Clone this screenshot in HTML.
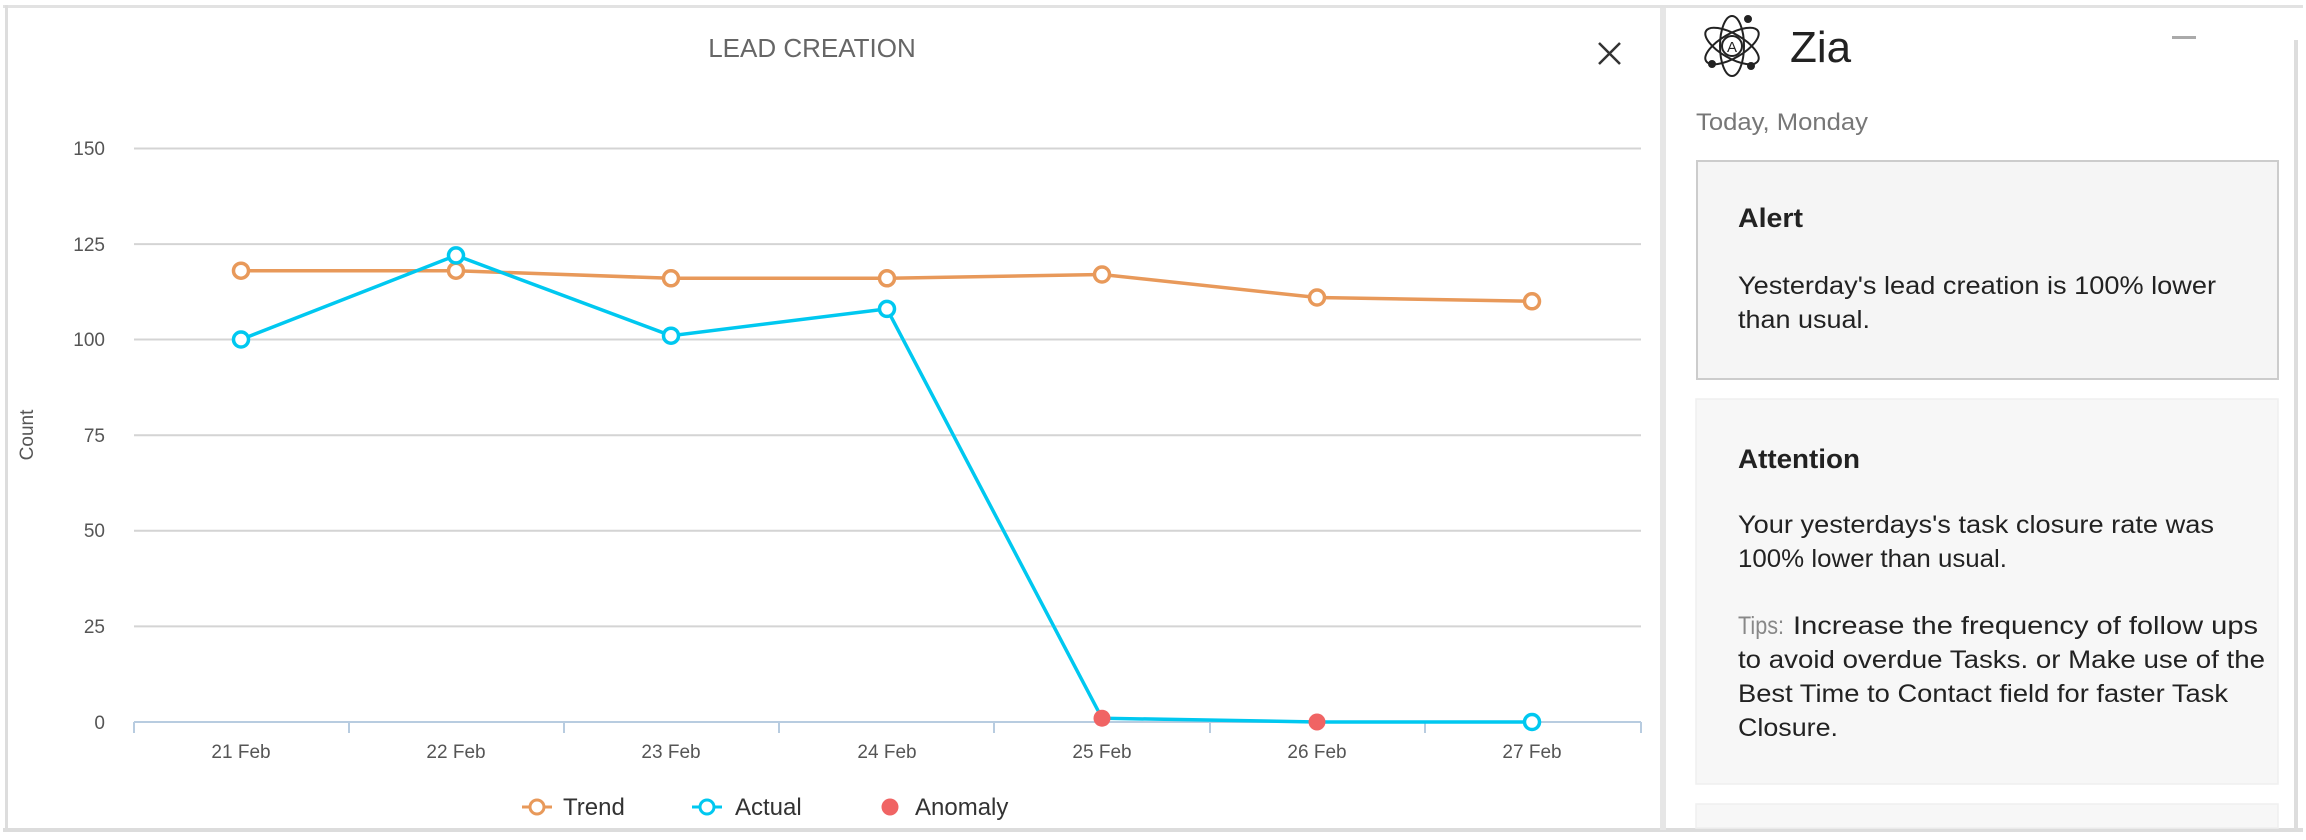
<!DOCTYPE html>
<html><head><meta charset="utf-8"><style>
html,body{margin:0;padding:0;background:#fff;}
svg{display:block;font-family:"Liberation Sans",sans-serif;}
</style></head><body>
<svg width="2306" height="840" viewBox="0 0 2306 840" xmlns="http://www.w3.org/2000/svg">
<rect width="2306" height="840" fill="#fff"/>
<rect x="3" y="5" width="2300" height="3" fill="#e2e2e2"/>
<rect x="3" y="828" width="2300" height="4" fill="#dcdcdc"/>
<rect x="5" y="5" width="3" height="825" fill="#dddddd"/>
<rect x="1660" y="8" width="6" height="822" fill="#e6e6e6"/>
<rect x="2294" y="40" width="4" height="790" fill="#dddddd"/>
<text x="812" y="57" font-size="26" fill="#666" text-anchor="middle">LEAD CREATION</text>
<path d="M1599 43 L1620 64 M1620 43 L1599 64" stroke="#333" stroke-width="2.5"/>
<g stroke="#d4d4d4" stroke-width="2">
<line x1="134" y1="148.5" x2="1641" y2="148.5"/>
<line x1="134" y1="244.1" x2="1641" y2="244.1"/>
<line x1="134" y1="339.5" x2="1641" y2="339.5"/>
<line x1="134" y1="435.2" x2="1641" y2="435.2"/>
<line x1="134" y1="530.8" x2="1641" y2="530.8"/>
<line x1="134" y1="626.4" x2="1641" y2="626.4"/>
</g>
<line x1="134" y1="722" x2="1641" y2="722" stroke="#b8cce0" stroke-width="2"/>
<g stroke="#b8cce0" stroke-width="2">
<line x1="134" y1="722" x2="134" y2="733"/><line x1="349" y1="722" x2="349" y2="733"/>
<line x1="564" y1="722" x2="564" y2="733"/><line x1="779" y1="722" x2="779" y2="733"/>
<line x1="994" y1="722" x2="994" y2="733"/><line x1="1210" y1="722" x2="1210" y2="733"/>
<line x1="1425" y1="722" x2="1425" y2="733"/><line x1="1641" y1="722" x2="1641" y2="733"/>
</g>
<g font-size="19" fill="#555" text-anchor="end">
<text x="105" y="155">150</text><text x="105" y="251">125</text><text x="105" y="346">100</text>
<text x="105" y="442">75</text><text x="105" y="537">50</text><text x="105" y="633">25</text><text x="105" y="729">0</text>
</g>
<text transform="translate(33,435) rotate(-90)" font-size="19" fill="#555" text-anchor="middle">Count</text>
<g font-size="19" fill="#555" text-anchor="middle">
<text x="241" y="758">21 Feb</text><text x="456" y="758">22 Feb</text><text x="671" y="758">23 Feb</text>
<text x="887" y="758">24 Feb</text><text x="1102" y="758">25 Feb</text><text x="1317" y="758">26 Feb</text><text x="1532" y="758">27 Feb</text>
</g>
<polyline points="241,270.7 456,270.7 671,278.3 887,278.3 1102,274.5 1317,297.5 1532,301.3" fill="none" stroke="#e8995a" stroke-width="3.5"/>
<g fill="#fff" stroke="#e8995a" stroke-width="3.5">
<circle cx="241" cy="270.7" r="7.5"/><circle cx="456" cy="270.7" r="7.5"/><circle cx="671" cy="278.3" r="7.5"/>
<circle cx="887" cy="278.3" r="7.5"/><circle cx="1102" cy="274.5" r="7.5"/><circle cx="1317" cy="297.5" r="7.5"/><circle cx="1532" cy="301.3" r="7.5"/>
</g>
<polyline points="241,339.5 456,255.4 671,335.7 887,308.9 1102,718.2 1317,722 1532,722" fill="none" stroke="#00c8f0" stroke-width="3.5"/>
<g fill="#fff" stroke="#00c8f0" stroke-width="3.5">
<circle cx="241" cy="339.5" r="7.5"/><circle cx="456" cy="255.4" r="7.5"/><circle cx="671" cy="335.7" r="7.5"/>
<circle cx="887" cy="308.9" r="7.5"/><circle cx="1532" cy="722" r="7.5"/>
</g>
<circle cx="1102" cy="718.2" r="8.5" fill="#f06464"/>
<circle cx="1317" cy="722" r="8.5" fill="#f06464"/>
<line x1="522" y1="807" x2="552" y2="807" stroke="#e8995a" stroke-width="3"/>
<circle cx="537" cy="807" r="7" fill="#fff" stroke="#e8995a" stroke-width="3"/>
<text x="563" y="815" font-size="24" fill="#333">Trend</text>
<line x1="692" y1="807" x2="722" y2="807" stroke="#00c8f0" stroke-width="3"/>
<circle cx="707" cy="807" r="7" fill="#fff" stroke="#00c8f0" stroke-width="3"/>
<text x="735" y="815" font-size="24" fill="#333">Actual</text>
<circle cx="890" cy="807" r="8.5" fill="#f06464"/>
<text x="915" y="815" font-size="24" fill="#333">Anomaly</text>
<g transform="translate(1732,46)" fill="none" stroke="#222" stroke-width="2">
<ellipse rx="30" ry="12" transform="rotate(30)"/>
<ellipse rx="30" ry="12" transform="rotate(-30)"/>
<ellipse rx="12" ry="30"/>
<circle r="10"/>
<text x="0" y="6" font-size="15" fill="#222" stroke="none" text-anchor="middle">A</text>
<circle cx="-20" cy="18" r="3" fill="#222"/><circle cx="16" cy="-27" r="3" fill="#222"/><circle cx="19" cy="20" r="3" fill="#222"/>
</g>
<text x="1790" y="62" font-size="44" fill="#222">Zia</text>
<rect x="2172" y="36" width="24" height="3" fill="#aaa"/>
<text x="1696" y="130" font-size="24" fill="#777" textLength="172" lengthAdjust="spacingAndGlyphs">Today, Monday</text>
<rect x="1697" y="161" width="581" height="218" fill="#f5f5f5" stroke="#cccccc" stroke-width="2"/>
<text x="1738" y="227" font-size="27" fill="#222" font-weight="bold" textLength="65" lengthAdjust="spacingAndGlyphs">Alert</text>
<text x="1738" y="294" font-size="25" fill="#222" textLength="478" lengthAdjust="spacingAndGlyphs">Yesterday's lead creation is 100% lower</text>
<text x="1738" y="328" font-size="25" fill="#222" textLength="132" lengthAdjust="spacingAndGlyphs">than usual.</text>
<rect x="1696" y="399" width="582" height="385" fill="#f7f7f7" stroke="#efefef" stroke-width="1.5"/>
<text x="1738" y="468" font-size="27" fill="#222" font-weight="bold" textLength="122" lengthAdjust="spacingAndGlyphs">Attention</text>
<text x="1738" y="533" font-size="25" fill="#222" textLength="476" lengthAdjust="spacingAndGlyphs">Your yesterdays's task closure rate was</text>
<text x="1738" y="567" font-size="25" fill="#222" textLength="269" lengthAdjust="spacingAndGlyphs">100% lower than usual.</text>
<text x="1738" y="634" font-size="25" fill="#888" textLength="46" lengthAdjust="spacingAndGlyphs">Tips:</text>
<text x="1793" y="634" font-size="25" fill="#222" textLength="465" lengthAdjust="spacingAndGlyphs">Increase the frequency of follow ups</text>
<text x="1738" y="668" font-size="25" fill="#222" textLength="527" lengthAdjust="spacingAndGlyphs">to avoid overdue Tasks. or Make use of the</text>
<text x="1738" y="702" font-size="25" fill="#222" textLength="490" lengthAdjust="spacingAndGlyphs">Best Time to Contact field for faster Task</text>
<text x="1738" y="736" font-size="25" fill="#222" textLength="100" lengthAdjust="spacingAndGlyphs">Closure.</text>
<rect x="1696" y="804" width="582" height="24" fill="#f7f7f7" stroke="#efefef" stroke-width="1.5"/>
</svg>
</body></html>
